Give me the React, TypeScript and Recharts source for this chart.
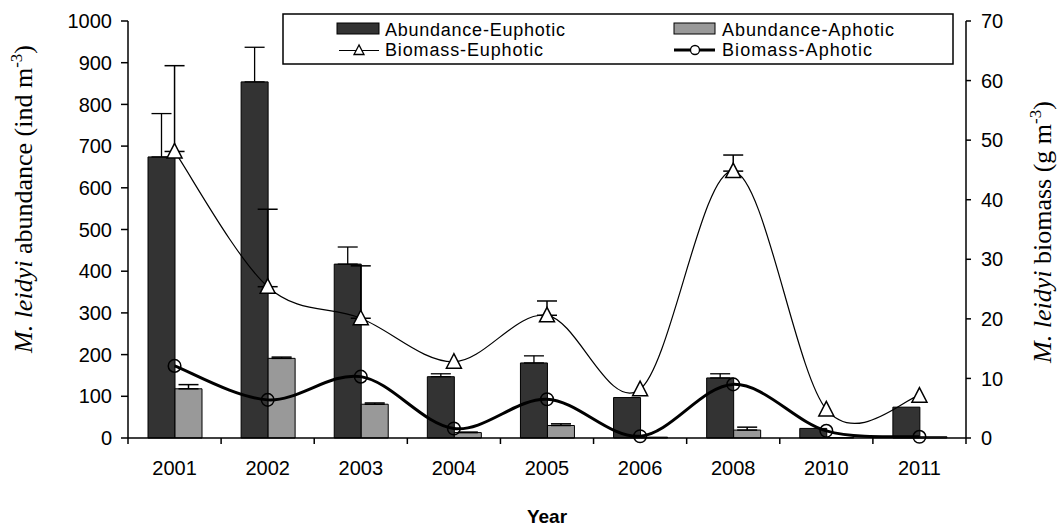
import React from 'react';
import { ComposedChart, Bar, Line, XAxis, YAxis, ErrorBar, Legend } from 'recharts';

const years = ['2001', '2002', '2003', '2004', '2005', '2006', '2008', '2010', '2011'];
// abundance, ind m-3 (left axis)
const abundEu = [674, 854, 417, 147, 180, 97, 144, 23, 74];
const abundEuErr = [104, 83, 41, 7, 17, 0, 10, 0, 0];
const abundAph = [118, 191, 81, 13, 30, 2, 19, 1, 3];
const abundAphErr = [10, 3, 3, 1, 4, 0, 7, 0, 0];
// biomass, g m-3 (right axis)
const bioEu = [48.1, 25.4, 20.1, 12.8, 20.6, 8.2, 44.8, 4.8, 7.1];
const bioEuErr = [14.4, 13.0, 8.8, 0, 2.4, 0, 2.7, 0, 0];
const bioAph = [12.1, 6.4, 10.3, 1.6, 6.5, 0.3, 9.0, 1.2, 0.2];

const leftTicks = [0, 100, 200, 300, 400, 500, 600, 700, 800, 900, 1000];
const rightTicks = [0, 10, 20, 30, 40, 50, 60, 70];

const err = (v: number) => (v > 0 ? [0, v] : null);

const data = years.map((year, i) => ({
  year,
  abEu: abundEu[i],
  abEuErr: err(abundEuErr[i]),
  abAph: abundAph[i],
  abAphErr: err(abundAphErr[i]),
  bioEu: bioEu[i],
  bioEuErr: err(bioEuErr[i]),
  bioAph: bioAph[i],
}));

const W = 1061;
const H = 528;
const PLOT_LEFT = 128;
const PLOT_RIGHT = 966;
const PLOT_TOP = 21;
const PLOT_BOTTOM = 438;
const BAND = (PLOT_RIGHT - PLOT_LEFT) / years.length;

const SANS = '"Liberation Sans", Arial, sans-serif';
const SERIF = '"Liberation Serif", "Times New Roman", serif';

// Excel-style smoothed line (Catmull-Rom through the points)
const excelSmooth = (context: any) => {
  let pts: number[][] = [];
  return {
    areaStart() {},
    areaEnd() {},
    lineStart() {
      pts = [];
    },
    point(x: number, y: number) {
      pts.push([+x, +y]);
    },
    lineEnd() {
      const n = pts.length;
      if (!n) return;
      context.moveTo(pts[0][0], pts[0][1]);
      for (let i = 0; i < n - 1; i++) {
        const p0 = pts[i - 1] || pts[i];
        const p1 = pts[i];
        const p2 = pts[i + 1];
        const p3 = pts[i + 2] || p2;
        context.bezierCurveTo(
          p1[0] + (p2[0] - p0[0]) / 6,
          p1[1] + (p2[1] - p0[1]) / 6,
          p2[0] - (p3[0] - p1[0]) / 6,
          p2[1] - (p3[1] - p1[1]) / 6,
          p2[0],
          p2[1]
        );
      }
    },
  };
};

const YearTick = (props: any) => {
  const { x, payload, index } = props;
  const left = x - BAND / 2;
  return (
    <g>
      <line x1={left} y1={PLOT_BOTTOM} x2={left} y2={PLOT_BOTTOM + 6} stroke="#000" strokeWidth={1.5} />
      {index === years.length - 1 && (
        <line x1={x + BAND / 2} y1={PLOT_BOTTOM} x2={x + BAND / 2} y2={PLOT_BOTTOM + 6} stroke="#000" strokeWidth={1.5} />
      )}
      <text x={x} y={PLOT_BOTTOM + 37} textAnchor="middle" fontSize={20} fontFamily={SANS} fill="#000">
        {payload.value}
      </text>
    </g>
  );
};

const TriangleDot = (props: any) => {
  const { cx, cy, index } = props;
  if (cx == null || cy == null) return <g key={index} />;
  return (
    <polygon
      key={index}
      points={`${cx},${cy - 8} ${cx - 7.5},${cy + 6.5} ${cx + 7.5},${cy + 6.5}`}
      fill="#fff"
      stroke="#000"
      strokeWidth={1.5}
    />
  );
};

const CircleDot = (props: any) => {
  const { cx, cy, index } = props;
  if (cx == null || cy == null) return <g key={index} />;
  return <circle key={index} cx={cx} cy={cy} r={6.3} fill="none" stroke="#000" strokeWidth={1.5} />;
};

const LeftTitle = () => (
  <text
    x={32}
    y={199}
    transform="rotate(-90, 32, 199)"
    textAnchor="middle"
    fontFamily={SERIF}
    fontSize={26}
    fill="#000"
  >
    <tspan fontStyle="italic">M. leidyi</tspan>
    <tspan> abundance (ind m</tspan>
    <tspan fontSize={17} dy={-10}>-3</tspan>
    <tspan dy={10}>)</tspan>
  </text>
);

const RightTitle = () => (
  <text
    x={1051}
    y={232}
    transform="rotate(-90, 1051, 232)"
    textAnchor="middle"
    fontFamily={SERIF}
    fontSize={26}
    fill="#000"
  >
    <tspan fontStyle="italic">M. leidyi</tspan>
    <tspan> biomass (g m</tspan>
    <tspan fontSize={17} dy={-10}>-3</tspan>
    <tspan dy={10}>)</tspan>
  </text>
);

const LegendBox = () => (
  <svg width={672} height={52} style={{ display: 'block' }}>
    <rect x={1} y={1} width={670} height={50} fill="#fff" stroke="#000" strokeWidth={1.5} />
    <g fontFamily={SANS} fontSize={18} fill="#000">
      <rect x={55} y={10} width={42} height={11} fill="#333333" stroke="#000" strokeWidth={1} />
      <text x={103} y={23} textLength={180} lengthAdjust="spacing">Abundance-Euphotic</text>
      <line x1={57} y1={37.5} x2={97} y2={37.5} stroke="#000" strokeWidth={1.2} />
      <polygon points="77,32 72,41.5 82,41.5" fill="#fff" stroke="#000" strokeWidth={1.3} />
      <text x={103} y={42.5} textLength={158} lengthAdjust="spacing">Biomass-Euphotic</text>

      <rect x={392} y={10} width={41} height={11} fill="#999999" stroke="#000" strokeWidth={1} />
      <text x={440} y={23} textLength={172} lengthAdjust="spacing">Abundance-Aphotic</text>
      <line x1={392} y1={37} x2={433} y2={37} stroke="#000" strokeWidth={3} />
      <circle cx={413} cy={37} r={4.5} fill="#fff" stroke="#000" strokeWidth={1.3} />
      <text x={440} y={42.5} textLength={150} lengthAdjust="spacing">Biomass-Aphotic</text>
    </g>
  </svg>
);

export default function App() {
  return (
    <div style={{ width: W, height: H, background: '#fff', position: 'relative' }}>
      <style>{'body{margin:0}'}</style>
      <ComposedChart
        width={W}
        height={H}
        data={data}
        margin={{ top: PLOT_TOP, right: 0, bottom: 0, left: 0 }}
        barGap={0}
      >
        <XAxis
          dataKey="year"
          xAxisId="x"
          height={H - PLOT_BOTTOM}
          axisLine={{ stroke: '#000', strokeWidth: 1.5 }}
          tickLine={false}
          tick={<YearTick />}
          interval={0}
          label={{
            value: 'Year',
            position: 'insideBottom',
            offset: 5,
            fontSize: 19,
            fontWeight: 'bold',
            fontFamily: SANS,
            fill: '#000',
          }}
        />
        <YAxis
          yAxisId="left"
          width={PLOT_LEFT}
          domain={[0, 1000]}
          ticks={leftTicks}
          interval={0}
          axisLine={{ stroke: '#000', strokeWidth: 1.5 }}
          tickLine={{ stroke: '#000', strokeWidth: 1.5 }}
          tickSize={7}
          tickMargin={9}
          tick={{ fontSize: 20, fontFamily: SANS, fill: '#000' }}
          label={{ content: () => <LeftTitle /> }}
        />
        <YAxis
          yAxisId="right"
          orientation="right"
          width={W - PLOT_RIGHT}
          domain={[0, 70]}
          ticks={rightTicks}
          interval={0}
          axisLine={{ stroke: '#000', strokeWidth: 1.5 }}
          tickLine={{ stroke: '#000', strokeWidth: 1.5 }}
          tickSize={5}
          tickMargin={10}
          tick={{ fontSize: 20, fontFamily: SANS, fill: '#000' }}
          label={{ content: () => <RightTitle /> }}
        />
        <Legend
          layout="horizontal"
          verticalAlign="middle"
          align="center"
          content={() => <LegendBox />}
          wrapperStyle={{ left: 282, top: 13, width: 672, height: 52 }}
        />
        <Bar
          dataKey="abEu"
          name="Abundance-Euphotic"
          xAxisId="x"
          yAxisId="left"
          barSize={27}
          fill="#333333"
          stroke="#000"
          strokeWidth={1}
          isAnimationActive={false}
        >
          <ErrorBar dataKey="abEuErr" direction="y" width={10} stroke="#000" strokeWidth={1.3} />
        </Bar>
        <Bar
          dataKey="abAph"
          name="Abundance-Aphotic"
          xAxisId="x"
          yAxisId="left"
          barSize={27}
          fill="#999999"
          stroke="#000"
          strokeWidth={1}
          isAnimationActive={false}
        >
          <ErrorBar dataKey="abAphErr" direction="y" width={10} stroke="#000" strokeWidth={1.5} />
        </Bar>
        <Line
          dataKey="bioAph"
          name="Biomass-Aphotic"
          xAxisId="x"
          yAxisId="right"
          type={excelSmooth as any}
          stroke="#000"
          strokeWidth={3}
          dot={CircleDot}
          activeDot={false}
          isAnimationActive={false}
        />
        <Line
          dataKey="bioEu"
          name="Biomass-Euphotic"
          xAxisId="x"
          yAxisId="right"
          type={excelSmooth as any}
          stroke="#000"
          strokeWidth={1.2}
          dot={TriangleDot}
          activeDot={false}
          isAnimationActive={false}
        >
          <ErrorBar dataKey="bioEuErr" direction="y" width={10} stroke="#000" strokeWidth={1.5} />
        </Line>
      </ComposedChart>
    </div>
  );
}
